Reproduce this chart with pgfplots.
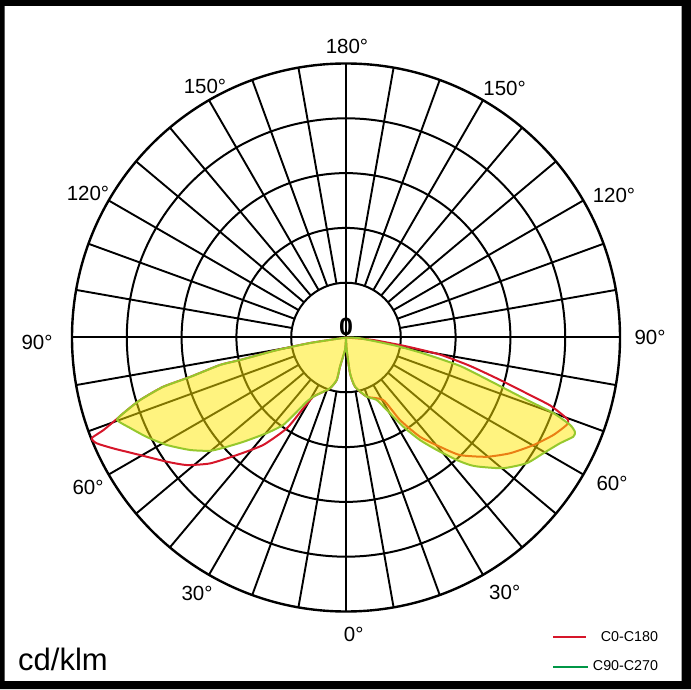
\documentclass[border=0pt]{standalone}
\usepackage{fontspec}
\setmainfont{Liberation Sans}
\usepackage{pgfplots}
\pgfplotsset{compat=1.18}

\definecolor{cred}{RGB}{214,22,42}
\definecolor{cyel}{RGB}{255,232,0}
\definecolor{coutline}{RGB}{150,200,45}
\definecolor{clegreen}{RGB}{0,150,70}

\begin{document}
\begin{tikzpicture}
\begin{axis}[x=1pt, y=1pt, xmin=-346, xmax=345, ymin=-351.5, ymax=337.5,
  hide axis, clip=false]
% frame
\fill[black, even odd rule] (axis cs:-346,-351.5) rectangle (axis cs:345,337.5)
  (axis cs:-341.5,-343.5) rectangle (axis cs:335.5,331.5);
% grid
\draw[line width=2pt] (axis cs:0,0) circle[radius=54.8pt];
\draw[line width=2pt] (axis cs:0,0) circle[radius=109.6pt];
\draw[line width=2pt] (axis cs:0,0) circle[radius=164.4pt];
\draw[line width=2pt] (axis cs:0,0) circle[radius=219.2pt];
\draw[line width=2.4pt] (axis cs:0,0) circle[radius=274pt];
\pgfplotsinvokeforeach{0,10,...,350}{
  \draw[line width=1.9pt] (axis cs:{54.8*cos(#1)},{54.8*sin(#1)}) -- (axis cs:{274*cos(#1)},{274*sin(#1)});
}
\draw[line width=2pt] (axis cs:-274,0) -- (axis cs:274,0);
\draw[line width=2pt] (axis cs:0,-274) -- (axis cs:0,274);

% C0-C180 (angle, intensity)
\addplot[cred, line width=2pt, line join=round, smooth, tension=0.35, data cs=polar] coordinates {
(188,0) (188.7,36.4) (190.3,70.1) (192.0,108.4) (192.3,129) (194.2,160.9)
(195.1,189.6) (196.9,215.3) (198.6,233.2) (199.6,243.5) (200.9,259.7)
(201.6,273.5) (203.0,270.8) (205.5,257.7) (209.7,237.2) (214.7,218.1)
(218.7,204.0) (222.8,185.3) (227.1,160.5) (232.4,135.6) (236.9,108.4)
(238.9,82.7) (241.1,67.6) (245.0,61.6) (252.5,53.3) (257.7,43.5)
(258.4,29.8) (265.4,12.5) (270,2)
(273.2,12.5) (276.4,36) (280.4,50) (289.3,62.7) (300.8,72.8) (303.2,98.6)
(306.7,123.8) (310.7,144.1) (314.1,163.7) (319.7,184.4) (324.8,200.8)
(330.1,216.0) (334.8,229.1) (338.4,237.4) (339.6,237.1) (340.3,230.4)
(341.6,215) (342.8,189.5) (344.6,159.8) (347.1,127.2) (349.7,95.5)
(351.6,61.7) (354.7,27.1) (358,0)
};

% C90-C270
\addplot[draw=coutline, line width=2pt, line join=round, smooth, tension=0.35,
  fill=cyel, fill opacity=0.5, data cs=polar] coordinates {
(188,0) (188.7,36.4) (190.3,70.1) (192.0,108.4) (192.3,129) (194.2,160.9)
(195.1,189.6) (196.9,215.3) (198.6,233.2) (199.8,243.4) (202.7,234.2)
(206.6,222.5) (211.0,208.8) (215.8,192.3) (219.8,177.0) (221.9,165.3)
(225.4,146.7) (230.4,124.0) (234.3,107.7) (236.5,89.0) (238.5,75.3)
(241.1,67.6) (245.0,61.6) (252.5,53.3) (257.7,43.5) (258.4,29.8)
(265.4,12.5) (270,2)
(273.2,12.5) (276.4,36) (280.4,50) (289.3,62.7) (296.2,69.6) (299.3,83.1)
(302.7,106) (305.8,126.4) (308.9,144.5) (312.1,165.1) (314.2,177.9)
(316.0,186.1) (320.3,204.6) (325.2,220.2) (329.6,228.8) (333.7,238.7)
(336.4,248.0) (337.6,247.6) (338.7,240.5) (340.0,220.3) (340.95,191.5)
(343.0,153.7) (346.0,117.5) (348.4,78.6) (350.7,49.6) (356.7,14) (358,0)
};

% angle labels
\begin{scope}[every node/.style={font=\fontsize{20.5}{24}\selectfont, inner sep=0pt}]
\node at (axis cs:1,291) {180°};
\node at (axis cs:-141,251) {150°};
\node at (axis cs:158.6,249.5) {150°};
\node at (axis cs:-258,144.5) {120°};
\node at (axis cs:268,142.5) {120°};
\node at (axis cs:-309,-4.5) {90°};
\node at (axis cs:304,0.5) {90°};
\node at (axis cs:-258,-149.5) {60°};
\node at (axis cs:266,-145.5) {60°};
\node at (axis cs:-149,-255.5) {30°};
\node at (axis cs:158.7,-254.5) {30°};
\node at (axis cs:7.7,-296.5) {0°};
\end{scope}
\node[font=\fontsize{25}{28}\selectfont\bfseries, inner sep=0pt] at (axis cs:0,10.5) {0};
\node[font=\fontsize{31}{36}\selectfont, inner sep=0pt, anchor=base west] at (axis cs:-328,-332.5) {cd/klm};

% legend
\draw[cred, line width=2pt] (axis cs:207,-299.2) -- (axis cs:240,-299.2);
\node[font=\fontsize{14.3}{17}\selectfont, inner sep=0pt, anchor=east] at (axis cs:312.3,-299.2) {C0-C180};
\draw[clegreen, line width=2pt] (axis cs:207,-329.8) -- (axis cs:242,-329.8);
\node[font=\fontsize{14.3}{17}\selectfont, inner sep=0pt, anchor=east] at (axis cs:312.3,-328.3) {C90-C270};
\end{axis}
\end{tikzpicture}
\end{document}
